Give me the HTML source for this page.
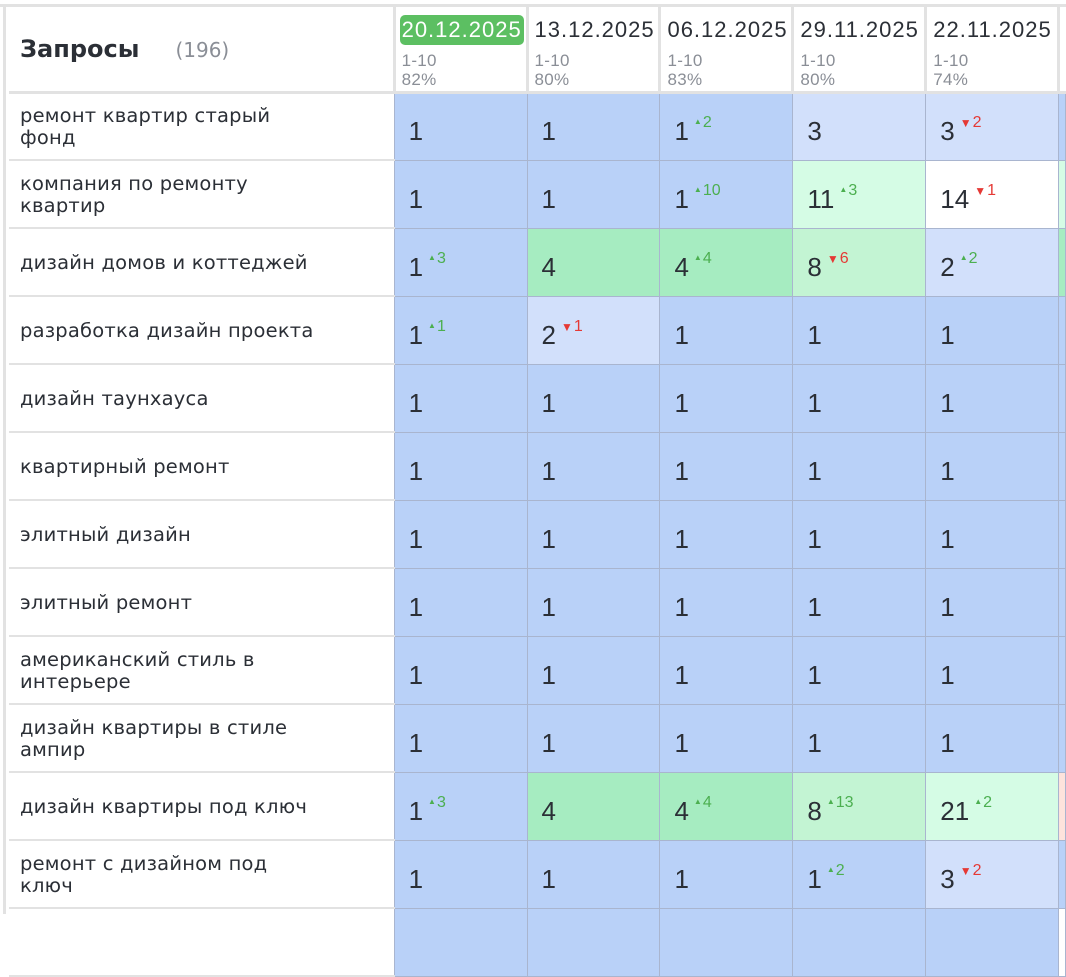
<!DOCTYPE html>
<html><head><meta charset="utf-8"><style>
body{margin:0;width:1066px;height:914px;overflow:hidden;background:#fff;font-family:"DejaVu Sans","Liberation Sans",sans-serif;color:#2b2f36;position:relative}
.topl{position:absolute;left:0;top:4px;width:1066px;height:3px;background:#e2e2e2}
.lefl{position:absolute;left:3px;top:4px;width:3px;height:910px;background:#e2e2e2}
table{position:absolute;left:9px;top:7px;border-collapse:collapse;table-layout:fixed}
td{padding:0;vertical-align:middle;overflow:hidden;white-space:nowrap}
td.q{width:390px;padding-left:11px;font-size:19.5px;letter-spacing:0.2px;line-height:22px;white-space:normal;border-bottom:2px solid #e2e2e2;height:68px;padding-right:75px;box-sizing:border-box;padding-top:2px}
td.c{width:133px;height:68px;border:1px solid #a9b5cf;font-size:24px;padding-left:14px;padding-top:10px;box-sizing:border-box;background:#b9d1f8;font-family:"Liberation Sans",sans-serif;font-size:26px}
td.e{width:6px;border:1px solid #a9b5cf;padding:0}
.lb{background:#d2e0fb!important}.g{background:#a6ecc1!important}.mg{background:#c3f4d3!important}.lg{background:#d5fce5!important}.w{background:#fff!important}
.u,.d{font-size:16px;position:relative;top:-13px;margin-left:5px;font-family:"Liberation Sans",sans-serif}
.u{color:#4caf50}.d{color:#e53935}
.u:before{content:"▲";font-size:8px;vertical-align:3px;margin-right:1px}
.d:before{content:"▼";font-size:12px;margin-right:1px}
th{font-weight:normal;text-align:left;vertical-align:top;padding:0;height:85px;border-bottom:3px solid #e2e2e2;border-left:3px solid #e2e2e2;box-sizing:border-box}
th.h0{border-left:none;vertical-align:middle;padding-left:11px}
.dt{font-family:"Liberation Sans",sans-serif;font-size:22px;letter-spacing:1px;margin:8px 0 0 4px;display:inline-block;padding:0 2px;border-radius:5px;line-height:30px}
.sub{font-family:"Liberation Sans",sans-serif;font-size:17px;color:#8a8e96;line-height:19px;margin:6px 0 0 6px;letter-spacing:0.3px}
</style></head><body>
<div class="topl"></div><div class="lefl"></div>
<table>
<tr><th class="h0" style="width:390px"><b style="font-size:24px">Запросы</b><span style="font-size:20px;color:#8a8e96;margin-left:36px">(196)</span></th>
<th style="width:133px"><span class="dt" style="background:#5cbf62;color:#fff">20.12.2025</span><div class="sub">1-10<br>82%</div></th>
<th style="width:133px"><span class="dt">13.12.2025</span><div class="sub">1-10<br>80%</div></th>
<th style="width:133px"><span class="dt">06.12.2025</span><div class="sub">1-10<br>83%</div></th>
<th style="width:132px"><span class="dt">29.11.2025</span><div class="sub">1-10<br>80%</div></th>
<th style="width:133px"><span class="dt">22.11.2025</span><div class="sub">1-10<br>74%</div></th>
<th style="width:6px"></th></tr>
<tr><td class="q">ремонт квартир старый фонд</td><td class="c">1</td><td class="c">1</td><td class="c">1<span class="u">2</span></td><td class="c lb">3</td><td class="c lb">3<span class="d">2</span></td><td class="e" style="background:#b9d1f8"></td></tr>
<tr><td class="q">компания по ремонту квартир</td><td class="c">1</td><td class="c">1</td><td class="c">1<span class="u">10</span></td><td class="c lg">11<span class="u">3</span></td><td class="c w">14<span class="d">1</span></td><td class="e" style="background:#d5fce5"></td></tr>
<tr><td class="q">дизайн домов и коттеджей</td><td class="c">1<span class="u">3</span></td><td class="c g">4</td><td class="c g">4<span class="u">4</span></td><td class="c mg">8<span class="d">6</span></td><td class="c lb">2<span class="u">2</span></td><td class="e" style="background:#a6ecc1"></td></tr>
<tr><td class="q">разработка дизайн проекта</td><td class="c">1<span class="u">1</span></td><td class="c lb">2<span class="d">1</span></td><td class="c">1</td><td class="c">1</td><td class="c">1</td><td class="e" style="background:#b9d1f8"></td></tr>
<tr><td class="q">дизайн таунхауса</td><td class="c">1</td><td class="c">1</td><td class="c">1</td><td class="c">1</td><td class="c">1</td><td class="e" style="background:#b9d1f8"></td></tr>
<tr><td class="q">квартирный ремонт</td><td class="c">1</td><td class="c">1</td><td class="c">1</td><td class="c">1</td><td class="c">1</td><td class="e" style="background:#b9d1f8"></td></tr>
<tr><td class="q">элитный дизайн</td><td class="c">1</td><td class="c">1</td><td class="c">1</td><td class="c">1</td><td class="c">1</td><td class="e" style="background:#b9d1f8"></td></tr>
<tr><td class="q">элитный ремонт</td><td class="c">1</td><td class="c">1</td><td class="c">1</td><td class="c">1</td><td class="c">1</td><td class="e" style="background:#b9d1f8"></td></tr>
<tr><td class="q">американский стиль в интерьере</td><td class="c">1</td><td class="c">1</td><td class="c">1</td><td class="c">1</td><td class="c">1</td><td class="e" style="background:#b9d1f8"></td></tr>
<tr><td class="q">дизайн квартиры в стиле ампир</td><td class="c">1</td><td class="c">1</td><td class="c">1</td><td class="c">1</td><td class="c">1</td><td class="e" style="background:#b9d1f8"></td></tr>
<tr><td class="q">дизайн квартиры под ключ</td><td class="c">1<span class="u">3</span></td><td class="c g">4</td><td class="c g">4<span class="u">4</span></td><td class="c mg">8<span class="u">13</span></td><td class="c lg">21<span class="u">2</span></td><td class="e" style="background:#fde3dc"></td></tr>
<tr><td class="q">ремонт с дизайном под ключ</td><td class="c">1</td><td class="c">1</td><td class="c">1</td><td class="c">1<span class="u">2</span></td><td class="c lb">3<span class="d">2</span></td><td class="e" style="background:#b9d1f8"></td></tr>
<tr><td class="q"></td><td class="c"></td><td class="c"></td><td class="c"></td><td class="c"></td><td class="c"></td><td class="e"></td></tr>
</table>
</body></html>
